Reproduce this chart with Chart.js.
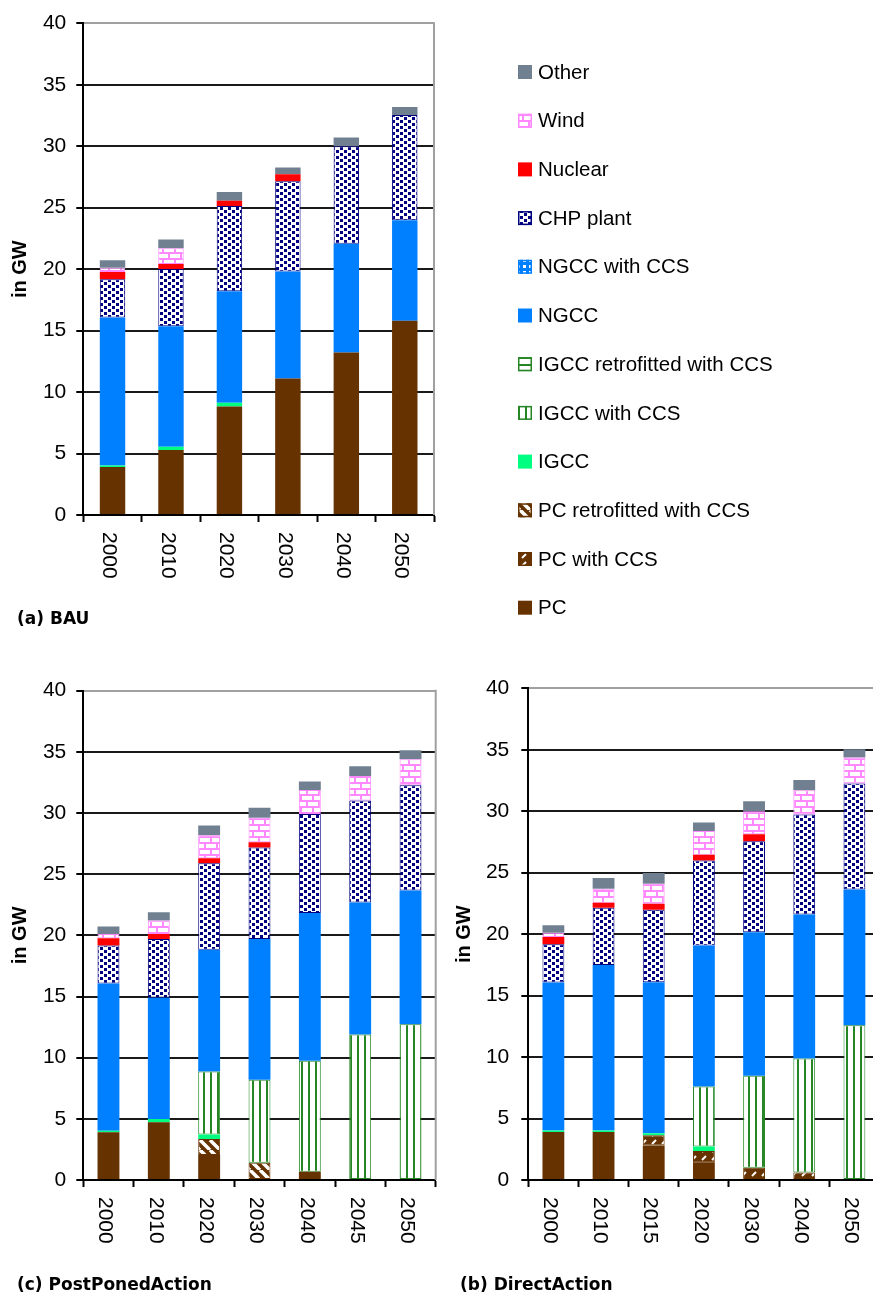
<!DOCTYPE html>
<html>
<head>
<meta charset="utf-8">
<script src="https://cdn.jsdelivr.net/npm/chart.js@4.4.1/dist/chart.umd.min.js"></script>
<style>
  html, body { margin: 0; padding: 0; background: #fff; overflow: hidden; width: 873px; height: 1295px; position: relative; }
  canvas { position: absolute; }
  .sub { position: absolute; font: bold 17px "DejaVu Sans"; line-height: 20px; color: #000; white-space: nowrap; }
</style>
</head>
<body>
<canvas id="bau" width="873" height="650" style="left:0;top:0;width:873px;height:650px"></canvas>
<canvas id="post" width="440" height="645" style="left:0;top:650px;width:440px;height:645px"></canvas>
<canvas id="direct" width="450" height="645" style="left:440px;top:650px;width:450px;height:645px"></canvas>
<div class="sub" style="left:17px;top:608px">(a) BAU</div>
<div class="sub" style="left:17px;top:1274px">(c) PostPonedAction</div>
<div class="sub" style="left:460px;top:1274px">(b) DirectAction</div>
<script>
// Installed capacity by technology, GW (stacked bottom to top in this order)
const seriesNames = ['PC', 'PC with CCS', 'PC retrofitted with CCS', 'IGCC', 'IGCC with CCS',
  'IGCC retrofitted with CCS', 'NGCC', 'NGCC with CCS', 'CHP plant', 'Nuclear', 'Wind', 'Other'];

// (a) BAU
const bauYears        = ['2000', '2010', '2020', '2030', '2040', '2050'];
const bauPC           = [3.9, 5.28, 8.83, 11.11, 13.22, 15.8];
const bauPCCCS        = [0, 0, 0, 0, 0, 0];
const bauPCRetro      = [0, 0, 0, 0, 0, 0];
const bauIGCC         = [0.12, 0.28, 0.3, 0, 0, 0];
const bauIGCCCCS      = [0, 0, 0, 0, 0, 0];
const bauIGCCRetro    = [0, 0, 0, 0, 0, 0];
const bauNGCC         = [12.05, 9.8, 9.07, 8.7, 8.85, 8.17];
const bauNGCCCCS      = [0, 0, 0, 0, 0, 0];
const bauCHP          = [3.1, 4.65, 6.94, 7.34, 7.93, 8.56];
const bauNuclear      = [0.6, 0.4, 0.43, 0.57, 0, 0];
const bauWind         = [0.35, 1.3, 0, 0, 0, 0];
const bauOther        = [0.6, 0.7, 0.7, 0.54, 0.7, 0.67];

// (c) PostPonedAction
const postYears       = ['2000', '2010', '2020', '2030', '2040', '2045', '2050'];
const postPC          = [3.9, 4.73, 2.05, 0, 0.68, 0, 0];
const postPCCCS       = [0, 0, 0, 0, 0, 0, 0];
const postPCRetro     = [0, 0, 1.3, 1.41, 0, 0, 0];
const postIGCC        = [0.12, 0.25, 0.36, 0, 0, 0, 0];
const postIGCCCCS     = [0, 0, 5.17, 6.79, 9.07, 11.89, 12.73];
const postIGCCRetro   = [0, 0, 0, 0, 0, 0, 0];
const postNGCC        = [12.05, 9.92, 9.95, 11.5, 12.07, 10.8, 10.94];
const postNGCCCCS     = [0, 0, 0, 0, 0, 0, 0];
const postCHP         = [3.1, 4.81, 7.07, 7.48, 8.11, 8.33, 8.6];
const postNuclear     = [0.6, 0.4, 0.4, 0.44, 0, 0, 0];
const postWind        = [0.35, 1.1, 1.88, 2.0, 1.96, 2.01, 2.12];
const postOther       = [0.6, 0.68, 0.8, 0.82, 0.68, 0.79, 0.74];

// (b) DirectAction
const directYears     = ['2000', '2010', '2015', '2020', '2030', '2040', '2050'];
const directPC        = [3.9, 3.9, 2.8, 1.45, 0, 0, 0];
const directPCCCS     = [0, 0, 0.84, 0.91, 1.0, 0.6, 0];
const directPCRetro   = [0, 0, 0, 0, 0, 0, 0];
const directIGCC      = [0.12, 0.12, 0.16, 0.36, 0, 0, 0];
const directIGCCCCS   = [0, 0, 0, 4.89, 7.48, 9.29, 12.58];
const directIGCCRetro = [0, 0, 0, 0, 0, 0, 0];
const directNGCC      = [12.05, 13.48, 12.29, 11.47, 11.68, 11.71, 11.06];
const directNGCCCCS   = [0, 0, 0, 0, 0, 0, 0];
const directCHP       = [3.1, 4.65, 5.89, 6.92, 7.39, 8.13, 8.61];
const directNuclear   = [0.6, 0.4, 0.49, 0.46, 0.58, 0, 0];
const directWind      = [0.35, 1.15, 1.63, 1.93, 1.87, 1.98, 2.12];
const directOther     = [0.6, 0.87, 0.87, 0.7, 0.82, 0.82, 0.68];

const yTickValues = [0, 5, 10, 15, 20, 25, 30, 35, 40];

Chart.defaults.font.family = '"Liberation Sans", Arial, sans-serif';
Chart.defaults.color = '#000';

// ---- fill patterns ----
function tile(w, h, paint) {
  const c = document.createElement('canvas');
  c.width = w; c.height = h;
  const g = c.getContext('2d');
  paint(g, w, h);
  return g.createPattern(c, 'repeat');
}
const BROWN = '#663300', GREEN = '#268626', NAVY = '#000080', PINK = '#ff88ff', BLUE = '#0080ff';

const pcFill = BROWN;
const pcCCSFill = tile(10, 8, g => {
  g.fillStyle = BROWN; g.fillRect(0, 0, 10, 8);
  g.strokeStyle = '#fff'; g.lineWidth = 2;
  g.beginPath(); g.moveTo(2, 6); g.lineTo(6, 2); g.stroke();
});
const pcRetroFill = tile(10, 10, g => {
  g.fillStyle = BROWN; g.fillRect(0, 0, 10, 10);
  g.strokeStyle = '#fff'; g.lineWidth = 3.5;
  for (const o of [-10, 0, 10]) { g.beginPath(); g.moveTo(o, 0); g.lineTo(o + 10, 10); g.stroke(); }
});
const igccFill = '#00ff80';
const igccCCSFill = tile(7, 4, g => {
  g.fillStyle = '#fff'; g.fillRect(0, 0, 7, 4);
  g.fillStyle = GREEN; g.fillRect(0, 0, 2, 4);
});
const igccRetroFill = tile(4, 7, g => {
  g.fillStyle = '#fff'; g.fillRect(0, 0, 4, 7);
  g.fillStyle = GREEN; g.fillRect(0, 0, 4, 2);
});
const ngccFill = BLUE;
const ngccCCSFill = tile(6, 6, g => {
  g.fillStyle = BLUE; g.fillRect(0, 0, 6, 6);
  g.fillStyle = '#fff'; g.fillRect(1, 1, 3, 3);
});
const chpFill = tile(8, 6, g => {
  g.fillStyle = '#fff'; g.fillRect(0, 0, 8, 6);
  g.fillStyle = NAVY; g.fillRect(0, 0, 3, 3); g.fillRect(4, 3, 3, 3);
});
const nuclearFill = '#ff0000';
const windFill = tile(12, 12, g => {
  g.fillStyle = '#fff'; g.fillRect(0, 0, 12, 12);
  g.fillStyle = PINK;
  g.fillRect(0, 0, 12, 2); g.fillRect(0, 6, 12, 2);
  g.fillRect(0, 2, 2, 4); g.fillRect(6, 8, 2, 4);
});
const otherFill = '#708090';

const fills = [pcFill, pcCCSFill, pcRetroFill, igccFill, igccCCSFill, igccRetroFill,
  ngccFill, ngccCCSFill, chpFill, nuclearFill, windFill, otherFill];
const edges = [null, BROWN, BROWN, null, GREEN, GREEN, null, BLUE, NAVY, null, PINK, null];

// ---- plugins ----
// category labels written top-to-bottom under each tick
const verticalLabels = {
  id: 'verticalLabels',
  afterDraw(chart, args, opts) {
    const ctx = chart.ctx, xs = chart.scales.x;
    ctx.save();
    ctx.font = '21px "Liberation Sans", Arial, sans-serif';
    ctx.fillStyle = '#000';
    ctx.textAlign = 'left';
    ctx.textBaseline = 'middle';
    chart.data.labels.forEach((lab, i) => {
      const x = xs.getPixelForTick(i) + opts.shift;
      ctx.save();
      ctx.translate(x, chart.chartArea.bottom + opts.gap);
      ctx.rotate(Math.PI / 2);
      ctx.fillText(lab, 0, 0);
      ctx.restore();
    });
    ctx.restore();
  }
};
// light frame line on the right of the plot area
const rightFrame = {
  id: 'rightFrame',
  beforeDatasetsDraw(chart) {
    const { ctx, chartArea: a } = chart;
    ctx.save();
    ctx.strokeStyle = '#a0a0a0';
    ctx.lineWidth = 2;
    ctx.beginPath(); ctx.moveTo(a.right, a.top - 1); ctx.lineTo(a.right, a.bottom); ctx.stroke();
    ctx.restore();
  }
};
// series key, top entry = last stacked series
const sideLegend = {
  id: 'sideLegend',
  afterDraw(chart, args, opts) {
    const ctx = chart.ctx;
    const ds = chart.data.datasets.slice().reverse();
    ctx.save();
    ctx.font = '20.5px "Liberation Sans", Arial, sans-serif';
    ctx.textAlign = 'left';
    ctx.textBaseline = 'middle';
    ds.forEach((d, k) => {
      const y = opts.top + k * opts.step;
      ctx.fillStyle = d.backgroundColor;
      ctx.fillRect(opts.x, y - 7, 14, 14);
      if (d.legendEdge) {
        ctx.strokeStyle = d.legendEdge; ctx.lineWidth = 1.5;
        ctx.strokeRect(opts.x + 0.75, y - 6.25, 12.5, 12.5);
      }
      ctx.fillStyle = '#000';
      ctx.fillText(d.label, opts.x + 20, y + 1);
    });
    ctx.restore();
  }
};

function buildChart(id, labels, values, geo, extraPlugins) {
  return new Chart(document.getElementById(id), {
    type: 'bar',
    data: {
      labels,
      datasets: seriesNames.map((name, i) => ({
        label: name,
        data: values[i],
        backgroundColor: fills[i],
        borderColor: edges[i] || 'rgba(0,0,0,0)',
        borderWidth: edges[i] ? 1 : 0,
        borderSkipped: false,
        legendEdge: edges[i],
        barPercentage: 0.435,
        categoryPercentage: 1
      }))
    },
    options: {
      responsive: false,
      animation: false,
      devicePixelRatio: 1,
      layout: { padding: geo.padding },
      plugins: {
        legend: { display: false },
        tooltip: { enabled: false },
        verticalLabels: { gap: 17, shift: -3.5 },
        sideLegend: geo.legend || {}
      },
      scales: {
        x: {
          stacked: true,
          grid: { display: true, offset: true, drawOnChartArea: false, drawTicks: true,
                  tickLength: 7, tickColor: '#000', tickWidth: 2 },
          border: { display: true, color: '#000', width: 2 },
          ticks: { display: false },
          afterFit: s => { s.height = 7; }
        },
        y: {
          stacked: true,
          min: 0, max: 40,
          afterBuildTicks: s => { s.ticks = yTickValues.map(v => ({ value: v })); },
          grid: {
            color: c => (c.tick && c.tick.value === 40) ? '#a0a0a0' : '#1a1a1a',
            lineWidth: 2, tickLength: 7, tickColor: '#000', tickWidth: 2
          },
          border: { display: true, color: '#000', width: 2 },
          ticks: { padding: geo.tickPad, font: { size: 21 }, color: '#000' },
          title: { display: true, text: 'in GW', color: '#000',
                   font: { size: 20, weight: 'bold' }, padding: { top: geo.titlePad, bottom: 0 } },
          afterFit: s => { s.width = geo.axisWidth; }
        }
      }
    },
    plugins: [verticalLabels, rightFrame].concat(extraPlugins || [])
  });
}

buildChart('bau', bauYears,
  [bauPC, bauPCCCS, bauPCRetro, bauIGCC, bauIGCCCCS, bauIGCCRetro, bauNGCC, bauNGCCCCS, bauCHP, bauNuclear, bauWind, bauOther],
  { padding: { left: 0, top: 23.3, right: 439, bottom: 128 }, axisWidth: 83.3, tickPad: 10, titlePad: 8.8,
    legend: { x: 518, top: 72, step: 48.7 } },
  [sideLegend]);

buildChart('post', postYears,
  [postPC, postPCCCS, postPCRetro, postIGCC, postIGCCCCS, postIGCCRetro, postNGCC, postNGCCCCS, postCHP, postNuclear, postWind, postOther],
  { padding: { left: 0, top: 40.7, right: 4.3, bottom: 108 }, axisWidth: 83.3, tickPad: 10, titlePad: 8.5 });

buildChart('direct', directYears,
  [directPC, directPCCCS, directPCRetro, directIGCC, directIGCCCCS, directIGCCRetro, directNGCC, directNGCCCCS, directCHP, directNuclear, directWind, directOther],
  { padding: { left: 0, top: 38.3, right: 10.5, bottom: 108 }, axisWidth: 88.3, tickPad: 12, titlePad: 12.3 });
</script>
</body>
</html>
